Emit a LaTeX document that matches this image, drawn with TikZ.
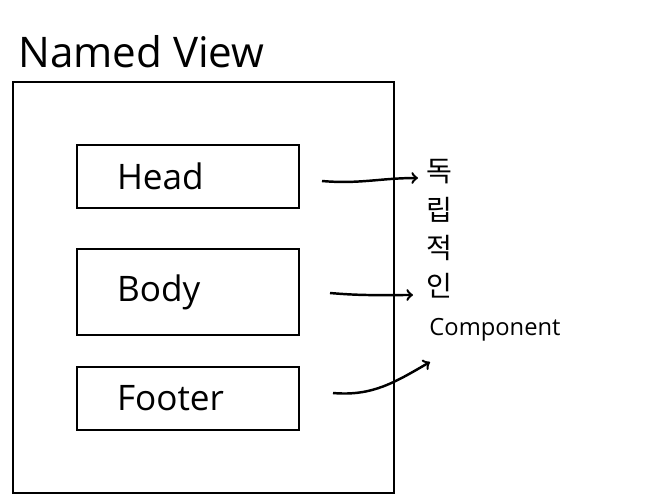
\documentclass[tikz,border=0pt]{standalone}
\usepackage{fontspec}
\setmainfont{Open Sans}
\newfontfamily\krfont{Noto Sans CJK KR}
\usetikzlibrary{positioning}
\tikzset{>=to}
\colorlet{penColor}{black}
\tikzset{
  part/.style={draw=penColor, line width=1.3pt, minimum height=#1, text width=2.84cm,
    inner xsep=0.8cm, align=left, font=\fontsize{20}{24}\selectfont},
  link/.style={->, line width=1.4pt, penColor}
}

\begin{document}
\begin{tikzpicture}[x=0.02cm,y=-0.02cm]
		\useasboundingbox (0,0) rectangle (664,504);
		% outer view and its title
		\node[draw=penColor, line width=1.3pt, minimum width=7.62cm, minimum height=8.22cm] (view) at (203.5,287.5) {};
		\node[anchor=south west, inner sep=0pt, font=\fontsize{24}{28}\selectfont] (title) at (18,68) {Named View};
		% parts
		\node[part=1.26cm] (head) at (188,176.5) {Head};
		\node[part=1.72cm] (body) at (188,292) {Body};
		\node[part=1.26cm] (footer) at (188,398.5) {Footer};
		% right side labels
		\node[font=\krfont\fontsize{16}{21.8}\selectfont, align=center, inner sep=0pt] (indep) at (439,229) {독\\립\\적\\인};
		\node[font=\fontsize{13.5}{16}\selectfont, inner sep=0pt] (comp) at (495,330) {Component};
		% arrows
		\coordinate (headFrom) at (322,181);
		\coordinate (headTo) at (418,178);
		\coordinate (bodyFrom) at (330,293);
		\coordinate (bodyTo) at (413,295);
		\coordinate (footFrom) at (333,393);
		\coordinate (footTo) at (430,362);
		\draw[link] (headFrom) to[out=-5,in=180] (headTo);
		\draw[link] (bodyFrom) to[out=-5,in=180] (bodyTo);
		\draw[link] (footFrom) to[out=-5,in=-150] (footTo);
		\end{tikzpicture}
\end{document}
